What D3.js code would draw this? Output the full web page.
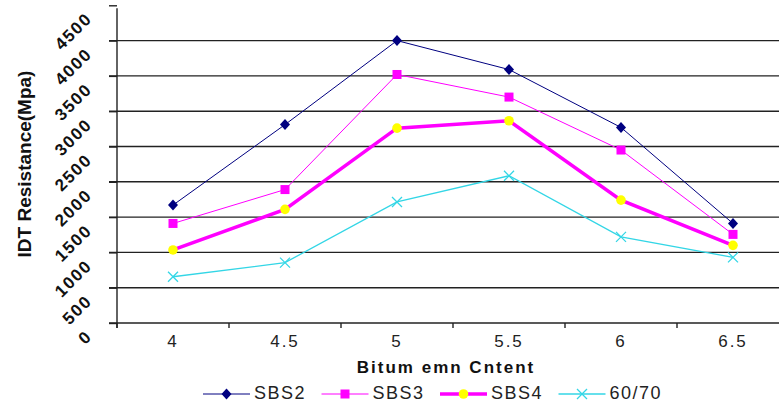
<!DOCTYPE html>
<html>
<head>
<meta charset="utf-8">
<script src="https://cdn.jsdelivr.net/npm/d3@7"></script>
<style>
  body { margin: 0; background: #fff; }
  svg { display: block; font-family: Arial, "Liberation Sans", sans-serif; }
</style>
</head>
<body>
<div class="chart"></div>
<script>
var width = 779, height = 403

// data
var categories = ["4", "4.5", "5", "5.5", "6", "6.5"]
var sbs2 = [1670, 2810, 4000, 3590, 2770, 1410]
var sbs3 = [1410, 1890, 3520, 3200, 2450, 1255]
var sbs4 = [1035, 1610, 2760, 2865, 1740, 1100]
var bit6070 = [655, 855, 1715, 2085, 1220, 930]
var yTicks = [0, 500, 1000, 1500, 2000, 2500, 3000, 3500, 4000, 4500]
var seriesNames = ["SBS2", "SBS3", "SBS4", "60/70"]

var series = [
  {name: seriesNames[0], values: sbs2, color: "#000080", width: 1, marker: "diamond", fill: "#000080"},
  {name: seriesNames[1], values: sbs3, color: "#ff00ff", width: 1, marker: "square", fill: "#ff00ff"},
  {name: seriesNames[2], values: sbs4, color: "#ff00ff", width: 3.5, marker: "circle", fill: "#ffff00"},
  {name: seriesNames[3], values: bit6070, color: "#33d6e6", width: 1.3, marker: "x", fill: "none"}
]

var plotLeft = 117, plotRight = 789, plotTop = 5.3, plotBottom = 323

const svg = d3.select(".chart")
    .append("svg")
    .attr("width", width)
    .attr("height", height)

var x = d3.scaleBand()
    .domain(categories)
    .range([plotLeft, plotRight])

var y = d3.scaleLinear()
    .domain([0, 4500])
    .range([plotBottom, plotTop])

// gridlines (4500 line sits on the picture edge, not drawn)
svg.append("g")
    .selectAll("line")
    .data(yTicks.filter(function(d){ return d > 0 && d < 4500 }))
    .enter()
    .append("line")
    .attr("x1", plotLeft - 8)
    .attr("x2", plotRight)
    .attr("y1", function(d){ return y(d) })
    .attr("y2", function(d){ return y(d) })
    .attr("stroke", "#222")
    .attr("stroke-width", 1.4)

// y axis
var yAxis = svg.append("g")
    .attr("transform", "translate(" + plotLeft + ",0)")
    .call(d3.axisLeft(y).tickValues(yTicks).tickFormat(d3.format("d")).tickSize(8).tickSizeOuter(0))
yAxis.select(".domain").attr("stroke", "#222").attr("stroke-width", 1.4)
    .attr("d", "M0," + (plotBottom + 5) + "V" + (plotTop + 3))
yAxis.selectAll(".tick line").attr("stroke", "#222").attr("stroke-width", 1.4)
yAxis.selectAll(".tick text")
    .attr("x", null).attr("dy", null)
    .attr("text-anchor", "end")
    .attr("transform", "translate(-24,14) rotate(-45)")
    .attr("font-size", "17px")
    .attr("font-weight", "bold")
    .attr("letter-spacing", "1.6px")
    .attr("fill", "#111")

// x axis
var xAxis = svg.append("g")
    .attr("transform", "translate(0," + plotBottom + ")")
    .call(d3.axisBottom(x).tickSize(0).tickSizeOuter(0))
xAxis.select(".domain").attr("stroke", "#222").attr("stroke-width", 1.4)
    .attr("d", "M" + (plotLeft - 8) + ",0H" + plotRight)
xAxis.selectAll(".tick text")
    .attr("y", 24).attr("dy", null)
    .attr("font-size", "17px")
    .attr("letter-spacing", "2px")
    .attr("fill", "#222")

// excel style ticks between categories
svg.append("g")
    .selectAll("line")
    .data(categories.concat(["end"]))
    .enter()
    .append("line")
    .attr("x1", function(d, i){ return plotLeft + i * x.bandwidth() })
    .attr("x2", function(d, i){ return plotLeft + i * x.bandwidth() })
    .attr("y1", plotBottom)
    .attr("y2", plotBottom + 5)
    .attr("stroke", "#222")
    .attr("stroke-width", 1.4)

// axis titles
svg.append("text")
    .attr("transform", "translate(31,164) rotate(-90)")
    .attr("text-anchor", "middle")
    .attr("font-size", "19px")
    .attr("font-weight", "bold")
    .attr("fill", "#111")
    .text("IDT Resistance(Mpa)")

svg.append("text")
    .attr("x", 446)
    .attr("y", 373)
    .attr("text-anchor", "middle")
    .attr("font-size", "17px")
    .attr("font-weight", "bold")
    .attr("letter-spacing", "2px")
    .attr("fill", "#111")
    .text("Bitum emn Cntent")

function cx(d, i){ return x(categories[i]) + x.bandwidth() / 2 }

function drawMarker(g, s, px, py){
  if (s.marker == "diamond"){
    g.append("path")
      .attr("d", "M" + px + "," + (py - 5.5) + "L" + (px + 5) + "," + py + "L" + px + "," + (py + 5.5) + "L" + (px - 5) + "," + py + "Z")
      .attr("fill", s.fill)
  } else if (s.marker == "square"){
    g.append("rect")
      .attr("x", px - 4.5).attr("y", py - 4.5)
      .attr("width", 9).attr("height", 9)
      .attr("fill", s.fill)
  } else if (s.marker == "circle"){
    g.append("circle")
      .attr("cx", px).attr("cy", py).attr("r", 4.8)
      .attr("fill", s.fill)
  } else {
    g.append("path")
      .attr("d", "M" + (px - 5) + "," + (py - 5) + "L" + (px + 5) + "," + (py + 5) + "M" + (px - 5) + "," + (py + 5) + "L" + (px + 5) + "," + (py - 5))
      .attr("stroke", s.color)
      .attr("stroke-width", 1.3)
      .attr("fill", "none")
  }
}

var line = d3.line()
    .x(cx)
    .y(function(d){ return y(d) })

series.forEach(function(s){
  var g = svg.append("g")
  g.append("path")
    .attr("d", line(s.values))
    .attr("fill", "none")
    .attr("stroke", s.color)
    .attr("stroke-width", s.width)
  s.values.forEach(function(v, i){
    drawMarker(g, s, cx(v, i), y(v))
  })
})

// legend
var legendX = 203, legendStep = 118.5, legendY = 394
series.forEach(function(s, i){
  var lx = legendX + i * legendStep
  var g = svg.append("g")
  g.append("line")
    .attr("x1", lx).attr("x2", lx + 47)
    .attr("y1", legendY).attr("y2", legendY)
    .attr("stroke", s.color)
    .attr("stroke-width", s.width)
  drawMarker(g, s, lx + 23.5, legendY)
  g.append("text")
    .attr("x", lx + 51)
    .attr("y", legendY + 5)
    .attr("font-size", "18px")
    .attr("letter-spacing", "1.5px")
    .attr("fill", "#222")
    .text(s.name)
})
</script>
</body>
</html>
